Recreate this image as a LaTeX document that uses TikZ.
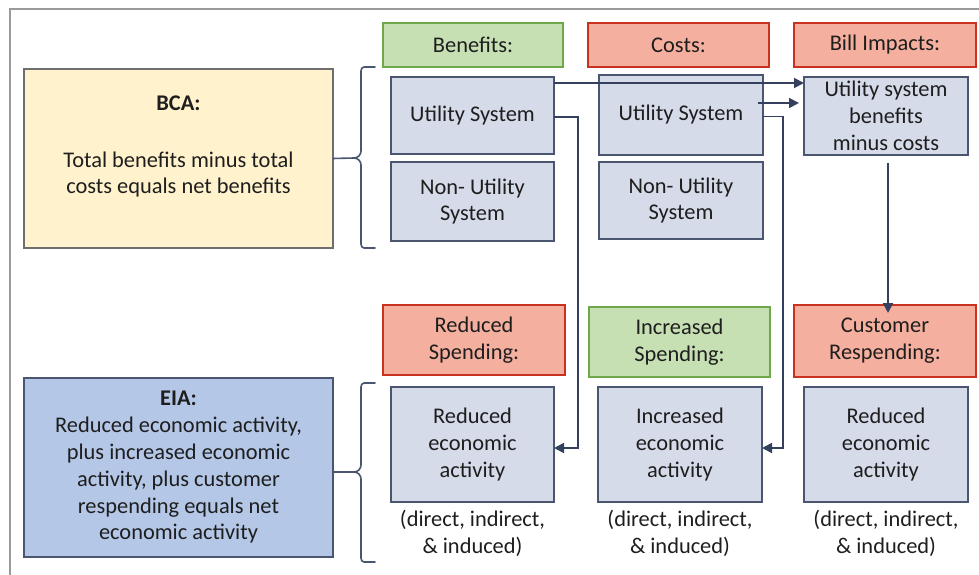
\documentclass[tikz,border=0pt]{standalone}
\usepackage{fontspec}
\setmainfont{Carlito}
\usetikzlibrary{arrows.meta,calc}
\definecolor{boxfill}{HTML}{D6DBE9}
\definecolor{boxline}{HTML}{4A5670}
\definecolor{arrowcol}{HTML}{34405E}
\definecolor{greenfill}{HTML}{C6E0B4}
\definecolor{greenline}{HTML}{6FA84A}
\definecolor{redfill}{HTML}{F5AF9E}
\definecolor{redline}{HTML}{C8321E}
\definecolor{yellowfill}{HTML}{FFF2CC}
\definecolor{yellowline}{HTML}{6E6E6E}
\definecolor{bluefill}{HTML}{B4C7E7}
\definecolor{txtcol}{HTML}{1E1E1E}
\definecolor{framecol}{HTML}{9A9A9A}
\begin{document}
\begin{tikzpicture}[x=1pt,y=-1pt,
  every node/.style={font=\fontsize{22.4}{26.8}\selectfont, text=txtcol, align=center, inner sep=0pt, outer sep=0pt},
  sz/.style 2 args={minimum width=#1pt, minimum height=#2pt},
  gbox/.style={draw=boxline, line width=1.8pt, fill=boxfill},
  ghdr/.style={draw=greenline, line width=1.6pt, fill=greenfill},
  rhdr/.style={draw=redline, line width=2.4pt, fill=redfill},
  ybox/.style={draw=yellowline, line width=1.8pt, fill=yellowfill},
  bbox/.style={draw=boxline, line width=1.8pt, fill=bluefill},
  arr/.style={draw=arrowcol, line width=1.9pt, -{Triangle[length=10pt,width=10pt]}},
  brc/.style={draw=boxline, line width=1.6pt, line cap=round},
  framel/.style={draw=framecol, line width=1.4pt},
]
\useasboundingbox (0,0) rectangle (979,575);
\draw[framel] (10,575) -- (10,9) -- (979,9);

% left summary boxes
\node[ybox, sz={309}{179}] (BCA) at (178.5,158.5) {};
\node (BCAt) at (178.5,103) {\textbf{BCA:}};
\node (BCAb) at (178.5,174.5) {Total benefits minus total\\costs equals net benefits};
\node[bbox, sz={309}{179}] (EIA) at (178.5,467.5) {\textbf{EIA:}\\Reduced economic activity,\\plus increased economic\\activity, plus customer\\respending equals net\\economic activity};

% headers top
\node[ghdr, sz={180}{44}] (Hben) at (473,45) {Benefits:};
\node[rhdr, sz={181}{44}] (Hcost) at (678.5,45) {Costs:};
\node[rhdr, sz={182}{44}] (Hbill) at (885,45) {Bill Impacts:};

% top boxes
\node[gbox, sz={163}{77}] (BU) at (472.5,115.5) {Utility System};
\node[gbox, sz={163}{79}] (BN) at (472.5,201.5) {Non- Utility\\System};
\node[gbox, sz={164}{80}] (CU) at (681,115) {Utility System};
\node[gbox, sz={164}{77}] (CN) at (681,200.5) {Non- Utility\\System};
\node[gbox, sz={164}{78}] (BI) at (886,116) {Utility system\\benefits\\minus costs};

% headers bottom
\node[rhdr, sz={182}{70}] (Hred) at (474,340) {Reduced\\Spending:};
\node[ghdr, sz={181}{70}] (Hinc) at (679.5,342) {Increased\\Spending:};
\node[rhdr, sz={182}{72}] (Hcus) at (885,341) {Customer\\Respending:};

% bottom boxes
\node[gbox, sz={163}{115}] (RE) at (472.5,444.5) {Reduced\\economic\\activity};
\node[gbox, sz={164}{115}] (IE) at (680,444.5) {Increased\\economic\\activity};
\node[gbox, sz={164}{115}] (CE) at (886,444.5) {Reduced\\economic\\activity};

% captions
\node (REc) at ([yshift=-31.5pt]RE.south) {(direct, indirect,\\\& induced)};
\node (IEc) at ([yshift=-31.5pt]IE.south) {(direct, indirect,\\\& induced)};
\node (CEc) at ([yshift=-31.5pt]CE.south) {(direct, indirect,\\\& induced)};

% braces
\draw[brc] (375,67) -- (364,67) to[out=180,in=90] (361,71) -- (361,151) to[out=-90,in=0] (354,158) -- (BCA.east);
\draw[brc] (375,248) -- (364,248) to[out=180,in=-90] (361,244) -- (361,165) to[out=90,in=0] (354,158);
\draw[brc] (375,383) -- (364,383) to[out=180,in=90] (361,387) -- (361,465) to[out=-90,in=0] (354,472) -- ([yshift=-4.5pt]EIA.east);
\draw[brc] (375,562) -- (364,562) to[out=180,in=-90] (361,558) -- (361,479) to[out=90,in=0] (354,472);

% arrows
\draw[arr] ([yshift=32.5pt]BU.east) -- ([yshift=32.5pt]BU.east -| BI.west);
\draw[arr] ([xshift=-5pt,yshift=12pt]CU.east) -- ([xshift=-5pt,yshift=12pt]CU.east -| BI.west);
\draw[arr] ([yshift=-1.5pt]BU.east) -- ++(24,0) |- ([yshift=-3.5pt]RE.east);
\draw[arr] ([yshift=-1.5pt]CU.east) -- ++(20,0) |- ([yshift=-3.5pt]IE.east);
\draw[arr] ([xshift=2pt,yshift=-8pt]BI.south) -- ([xshift=2pt,yshift=-8pt]BI.south |- Hcus.north);
\end{tikzpicture}
\end{document}
